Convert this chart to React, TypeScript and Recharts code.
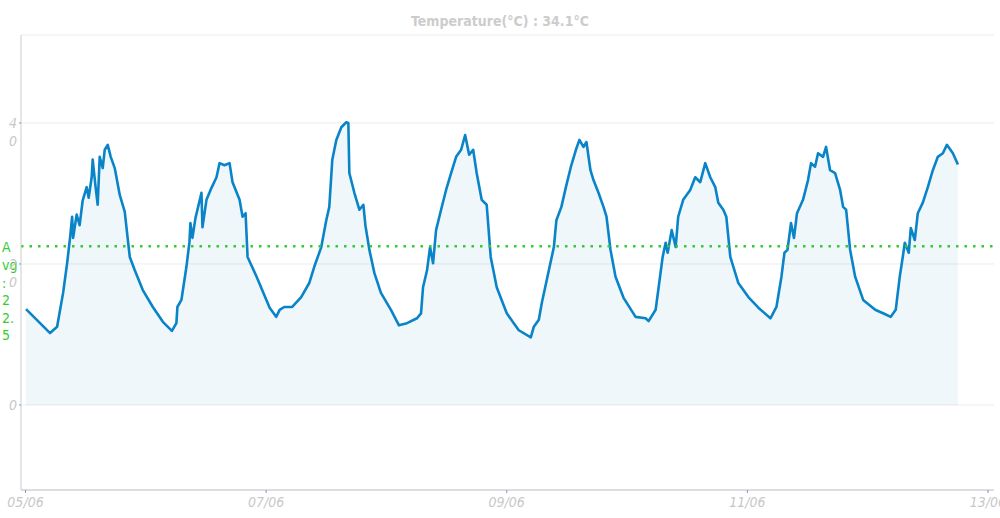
import { ComposedChart, Area, XAxis, YAxis, CartesianGrid, ReferenceLine } from "recharts";

// hours since 05/06 00:00
const hours = [
  0.1, 4.9, 6.3, 7.5, 8.3, 8.9, 9.3, 9.5, 10.2, 10.8, 11.4, 12.2, 12.6, 13.2, 13.4, 14.0, 14.4, 14.8, 15.4, 15.8,
  16.4, 17.0, 17.8, 18.8, 19.8, 20.2, 20.8, 21.8, 23.4, 25.4, 27.4, 29.2, 30.1, 30.3, 31.1, 32.1, 32.7, 32.9, 33.3,
  33.9, 35.1, 35.3, 36.1, 37.1, 38.1, 38.7, 39.7, 40.7, 41.3, 42.7, 43.3, 43.9, 44.3, 46.1, 48.7, 50.0, 50.7, 51.6,
  53.2, 55.0, 56.6, 57.6, 59.0, 60.0, 60.6, 61.2, 62.0, 63.0, 64.0, 64.4, 64.6, 65.6, 66.6, 67.4, 67.8, 68.6, 69.6,
  70.9, 72.9, 74.5, 76.1, 78.1, 78.9, 79.3, 80.1, 80.7, 81.3, 81.9, 82.9, 83.9, 84.9, 85.9, 86.9, 87.7, 88.5, 89.3,
  90.0, 91.0, 92.0, 92.8, 94.0, 96.0, 97.4, 98.4, 100.8, 101.4, 102.4, 103.0, 104.4, 105.4, 105.9, 106.9, 107.8,
  108.8, 109.8, 110.5, 111.3, 111.9, 112.7, 113.3, 114.3, 115.3, 115.9, 116.7, 117.7, 119.3, 121.7, 123.7, 124.3,
  125.7, 126.3, 127.1, 127.7, 128.1, 128.9, 129.7, 130.2, 131.2, 132.6, 133.6, 134.6, 135.6, 136.6, 137.6, 138.2,
  139.2, 139.8, 140.6, 142.2, 144.2, 146.2, 148.6, 149.8, 150.8, 151.4, 152.0, 152.7, 153.3, 153.9, 155.1, 156.1,
  156.7, 157.5, 158.1, 159.1, 159.7, 160.5, 161.5, 162.5, 163.1, 163.7, 164.5, 165.5, 167.1, 169.5, 171.4, 172.6,
  173.6, 174.4, 175.0, 175.4, 176.2, 176.6, 177.4, 178.0, 179.0, 180.0, 181.0, 182.0, 183.0, 183.8, 185.0, 186.0,
];

// temperature in °C
const temps = [
  13.6, 10.2, 11.1, 15.9, 20.1, 23.8, 26.7, 23.7, 27.0, 25.5, 29.0, 30.9, 29.4, 32.3, 34.8, 30.8, 28.4, 35.2, 33.6, 36.2,
  36.9, 35.2, 33.6, 29.8, 27.4, 24.8, 21.0, 19.1, 16.3, 13.9, 11.8, 10.5, 11.6, 13.9, 14.9, 19.6, 23.1, 25.8, 23.7,
  26.5, 30.1, 25.2, 29.1, 30.8, 32.3, 34.3, 34.0, 34.3, 31.6, 29.1, 26.7, 27.2, 21.0, 18.2, 13.8, 12.5, 13.5, 13.9,
  13.9, 15.3, 17.3, 19.6, 22.4, 26.2, 28.1, 34.8, 37.6, 39.4, 40.1, 40.0, 32.9, 30.1, 27.7, 28.4, 25.5, 22.0, 18.7,
  15.9, 13.5, 11.3, 11.6, 12.3, 13.0, 16.7, 19.1, 22.4, 20.1, 24.8, 27.7, 30.5, 32.9, 35.2, 36.2, 38.3, 35.5, 36.2,
  32.9, 29.1, 28.4, 21.0, 16.7, 13.0, 11.6, 10.6, 9.6, 11.1, 12.1, 14.5, 19.1, 22.4, 26.2, 28.1, 30.9,
  33.8, 36.2, 37.6, 36.6, 37.3, 33.3, 31.9, 30.1, 28.1, 26.7, 22.0, 18.2, 15.2, 12.5, 12.3, 11.9,
  13.5, 16.7, 21.0, 23.0, 21.6, 24.8, 22.4, 26.7, 29.1, 30.5, 32.3, 31.6, 34.3, 32.3, 30.9, 28.7,
  27.7, 26.7, 21.0, 17.3, 15.3, 13.8, 12.3, 13.9, 18.2, 21.6, 22.0, 25.8, 23.7, 27.2, 29.1, 31.9,
  34.3, 33.8, 35.7, 35.2, 36.6, 33.3, 32.9, 30.5, 28.1, 27.7, 22.0, 18.2, 14.9, 13.5, 12.9, 12.5,
  13.5, 18.2, 21.0, 23.0, 21.6, 25.1, 23.4, 27.2, 28.7, 30.9, 33.3, 35.2, 35.7, 36.9, 35.7, 34.1,
];

const xTicks = [0, 48, 96, 144, 192];
const xTickLabels = ["05/06", "07/06", "09/06", "11/06", "13/06"];
const yTicks = [0, 20, 40];
const avgValue = 22.5;
const avgLabelLines = ["A", "vg", ":", "2", "2.", "5"];
const title = "Temperature(°C) : 34.1°C";

const data = hours.map((h, i) => ({ h, t: temps[i] }));

const FONT = "'DejaVu Sans Condensed', 'Liberation Sans Narrow', 'DejaVu Sans', sans-serif";
const LINE = "#0a84c8";
const GREEN = "#33cc33";

function XTick({ x, y, payload }: any) {
  const idx = xTicks.indexOf(payload.value);
  return (
    <text x={x} y={y + 12} textAnchor="middle" fill="#c8c8c8" fontSize={14} fontStyle="italic" fontFamily={FONT}>
      {xTickLabels[idx]}
    </text>
  );
}

// narrow axis: label is broken one char per line
function YTick({ x, y, payload }: any) {
  const chars = String(payload.value).split("");
  return (
    <text x={x} y={y + 5} textAnchor="end" fill="#c8c8c8" fontSize={14} fontStyle="italic" fontFamily={FONT}>
      {chars.map((c, i) => (
        <tspan key={i} x={x} dy={i === 0 ? 0 : 18}>
          {c}
        </tspan>
      ))}
    </text>
  );
}

function AvgLabel({ viewBox }: any) {
  const y = viewBox.y;
  return (
    <text x={2} y={y + 6} fill={GREEN} fontSize={14} fontFamily={FONT}>
      {avgLabelLines.map((s, i) => (
        <tspan key={i} x={2} dy={i === 0 ? 0 : 17.6}>
          {s}
        </tspan>
      ))}
    </text>
  );
}

export default function App() {
  return (
    <div style={{ position: "absolute", left: 0, top: 0, width: 1000, height: 518, overflow: "hidden", background: "#fff" }}>
      <div
        style={{
          position: "absolute",
          top: 13,
          left: 0,
          width: 1000,
          textAlign: "center",
          fontFamily: FONT,
          fontWeight: "bold",
          fontSize: 14,
          color: "#cccccc",
        }}
      >
        {title}
      </div>
      <ComposedChart width={1000} height={518} data={data} margin={{ top: 35, right: 6, bottom: 0, left: 0 }}>
        <CartesianGrid vertical={false} stroke="#ececec" />
        <XAxis
          dataKey="h"
          type="number"
          domain={[-0.9, 193.2]}
          ticks={xTicks}
          height={28}
          tickSize={3}
          tickLine={{ stroke: "#8b90c0" }}
          axisLine={{ stroke: "#c4c6d0" }}
          tick={<XTick />}
          interval={0}
        />
        <YAxis
          type="number"
          domain={[-12.06, 52.48]}
          ticks={yTicks}
          width={21}
          tickSize={2}
          tickLine={{ stroke: "#8b90c0" }}
          axisLine={{ stroke: "#cccccc" }}
          tick={<YTick />}
          allowDataOverflow
        />
        <Area
          type="linear"
          dataKey="t"
          baseValue={0}
          stroke={LINE}
          strokeWidth={2.6}
          strokeLinejoin="round"
          fill={LINE}
          fillOpacity={0.065}
          dot={false}
          activeDot={false}
          isAnimationActive={false}
        />
        <ReferenceLine
          y={avgValue}
          stroke={GREEN}
          strokeWidth={2.5}
          strokeDasharray="2.5 6"
          label={<AvgLabel />}
        />
      </ComposedChart>
    </div>
  );
}
